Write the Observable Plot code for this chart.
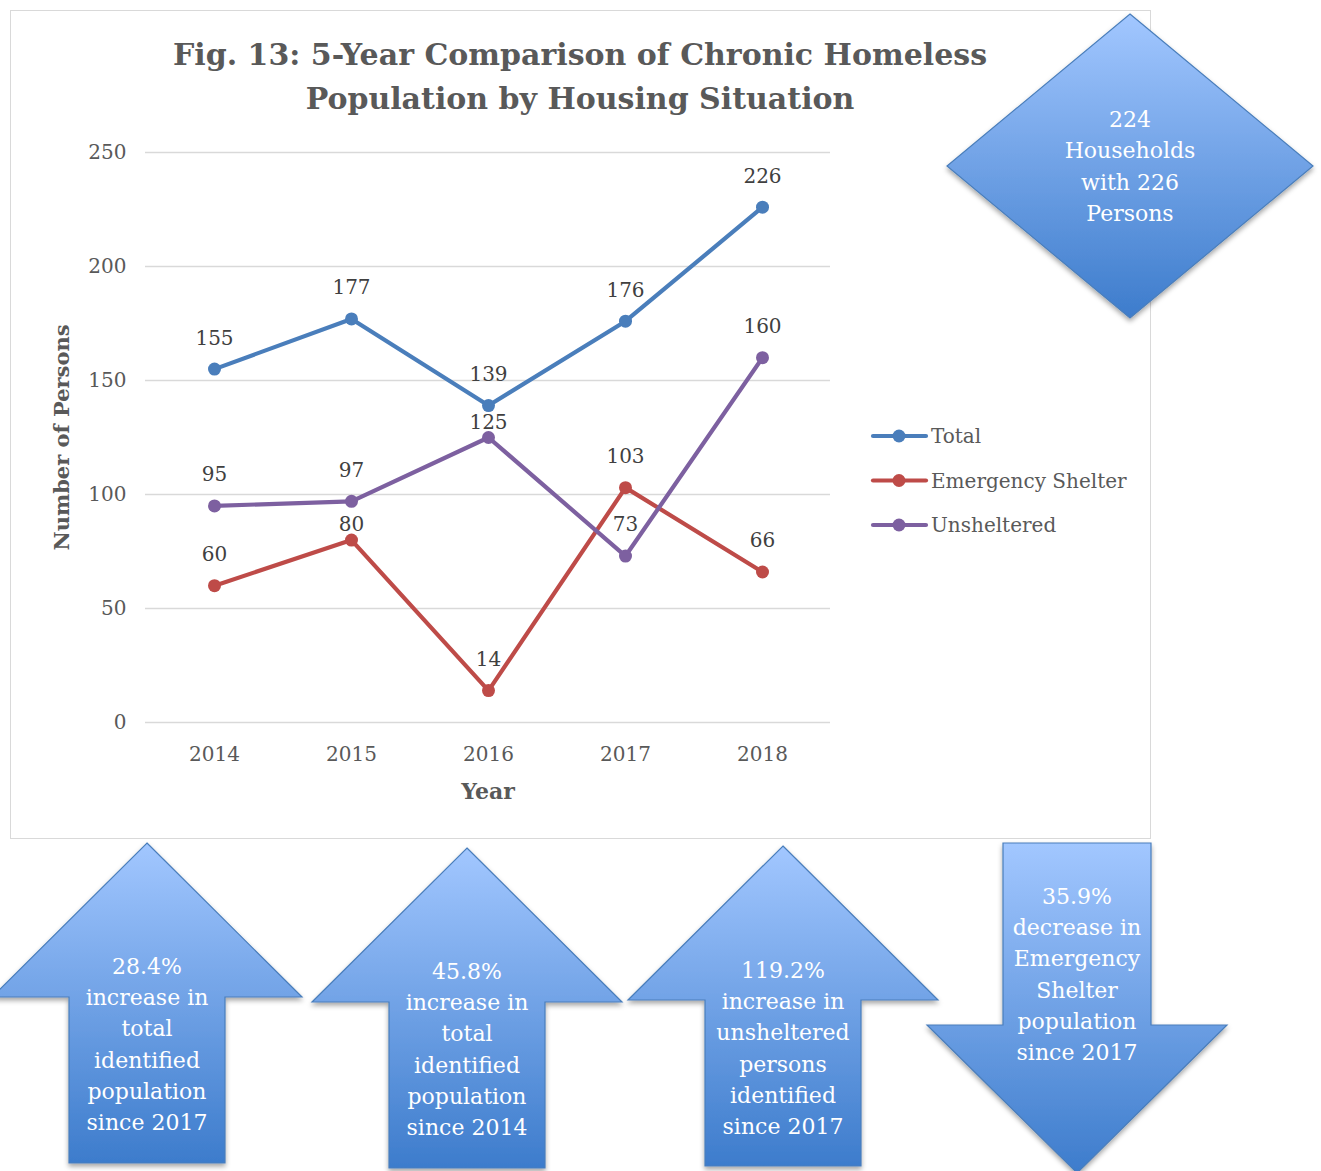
<!DOCTYPE html>
<html>
<head>
<meta charset="utf-8">
<script src="https://cdn.jsdelivr.net/npm/d3@7"></script>
<script src="https://cdn.jsdelivr.net/npm/@observablehq/plot@0.6"></script>
<style>
  html, body { margin: 0; padding: 0; background: #fff; }
  #page { position: relative; width: 1321px; height: 1171px; overflow: hidden; font-family: "DejaVu Serif", serif; }
  #box { position: absolute; left: 10px; top: 10px; width: 1141px; height: 829px; border: 1.5px solid #d9d9d9; box-sizing: border-box; }
  #chart { position: absolute; left: 11px; top: 140px; }
  svg.overlay { position: absolute; left: 0; top: 0; }
</style>
</head>
<body>
<div id="page">
  <div id="box"></div>
  <div id="chart"></div>
</div>
<script>
// ---- data ----
const years = ["2014", "2015", "2016", "2017", "2018"];
const totalValues = [155, 177, 139, 176, 226];
const shelterValues = [60, 80, 14, 103, 66];
const unshelteredValues = [95, 97, 125, 73, 160];
const seriesNames = ["Total", "Emergency Shelter", "Unsheltered"];
const seriesColors = ["#4a7ebb", "#be4b48", "#7d60a0"];
const yTicks = [0, 50, 100, 150, 200, 250];
const titleLines = ["Fig. 13: 5-Year Comparison of Chronic Homeless", "Population by Housing Situation"];
const diamondText = ["224", "Households", "with 226", "Persons"];
const arrowTexts = [
  ["28.4%", "increase in", "total", "identified", "population", "since 2017"],
  ["45.8%", "increase in", "total", "identified", "population", "since 2014"],
  ["119.2%", "increase in", "unsheltered", "persons", "identified", "since 2017"],
  ["35.9%", "decrease in", "Emergency", "Shelter", "population", "since 2017"]
];
// label placement (pixels above point), per series & year — layout only
const labelLift = [
  [31, 31, 31, 31, 31],
  [31, 16, 31, 31, 31],
  [31, 31, 15, 31, 31]
];

const allSeries = [totalValues, shelterValues, unshelteredValues];
const rows = [];
allSeries.forEach((vals, si) => vals.forEach((v, i) => rows.push({series: seriesNames[si], year: years[i], value: v, lift: labelLift[si][i]})));

const chart = Plot.plot({
  width: 1138,
  height: 690,
  marginTop: 12,
  marginBottom: 108,
  marginLeft: 134,
  marginRight: 319,
  x: {type: "point", domain: years, padding: 0.5},
  y: {domain: [0, 250]},
  color: {domain: seriesNames, range: seriesColors},
  style: {fontFamily: "DejaVu Serif", fontSize: "20px", color: "#595959", background: "transparent", overflow: "visible"},
  marks: [
    Plot.ruleY(yTicks, {stroke: "#d9d9d9", strokeWidth: 1.5}),
    Plot.axisY({ticks: yTicks, tickSize: 0, tickPadding: 19, label: null, fontSize: 20, fill: "#595959"}),
    Plot.axisX({tickSize: 0, tickPadding: 24, label: null, fontSize: 20, fill: "#595959"}),
    Plot.text(["Number of Persons"], {frameAnchor: "left", textAnchor: "middle", lineAnchor: "middle", dx: -83, rotate: -90, fontWeight: "bold", fontSize: 21, fill: "#595959"}),
    Plot.text(["Year"], {frameAnchor: "bottom", textAnchor: "middle", lineAnchor: "middle", dy: 69, fontWeight: "bold", fontSize: 22, fill: "#595959"}),
    Plot.line(rows, {x: "year", y: "value", z: "series", stroke: "series", strokeWidth: 4.2, strokeLinecap: "round", strokeLinejoin: "round"}),
    Plot.dot(rows, {x: "year", y: "value", fill: "series", r: 6.5, stroke: null}),
    Plot.text(rows, {x: "year", y: d => d.value, text: d => String(d.value), fill: "#404040", fontSize: 20,
      render: (index, scales, values, dims, ctx, next) => {
        const g = next(index, scales, values, dims, ctx);
        d3.select(g).selectAll("text").each(function(_, k) {
          const i = index[k];
          d3.select(this).attr("dy", -rows[i].lift);
        });
        return g;
      }})
  ]
});
document.getElementById("chart").appendChild(chart);

// ---- overlay: title, legend, callout shapes ----
const page = document.getElementById("page");
const svg = d3.select(page).append("svg").attr("class", "overlay").attr("width", 1321).attr("height", 1171);
const defs = svg.append("defs");
const grad = defs.append("linearGradient").attr("id", "blueGrad").attr("x1", 0).attr("y1", 0).attr("x2", 0).attr("y2", 1);
grad.append("stop").attr("offset", "0%").attr("stop-color", "#a2c7ff");
grad.append("stop").attr("offset", "100%").attr("stop-color", "#3d7ccc");
const filt = defs.append("filter").attr("id", "shadow").attr("x", "-10%").attr("y", "-10%").attr("width", "130%").attr("height", "130%");
filt.append("feDropShadow").attr("dx", 0).attr("dy", 3).attr("stdDeviation", 2.5).attr("flood-color", "#000").attr("flood-opacity", 0.35);

// title
const title = svg.append("text").attr("text-anchor", "middle").attr("font-family", "DejaVu Serif").attr("font-weight", "bold").attr("font-size", 30).attr("fill", "#595959");
titleLines.forEach((t, i) => title.append("tspan").attr("x", 580).attr("y", 65 + i * 44).text(t));

// legend
const legend = svg.append("g").attr("font-family", "DejaVu Serif").attr("font-size", 20).attr("fill", "#595959");
seriesNames.forEach((name, i) => {
  const y = 436 + i * 44.5;
  legend.append("line").attr("x1", 873).attr("x2", 926).attr("y1", y).attr("y2", y).attr("stroke", seriesColors[i]).attr("stroke-width", 4.2).attr("stroke-linecap", "round");
  legend.append("circle").attr("cx", 899).attr("cy", y).attr("r", 6.5).attr("fill", seriesColors[i]);
  legend.append("text").attr("x", 931).attr("y", y + 7).text(name);
});

function drawText(lines, cx, y0, step) {
  const t = svg.append("text").attr("text-anchor", "middle").attr("font-family", "DejaVu Serif").attr("font-size", 22).attr("fill", "#fff");
  lines.forEach((l, i) => t.append("tspan").attr("x", cx).attr("y", y0 + i * step).text(l));
}

// diamond
const dm = {cx: 1130, cy: 166, hw: 183, hh: 152};
svg.append("path")
  .attr("d", `M${dm.cx},${dm.cy - dm.hh} L${dm.cx + dm.hw},${dm.cy} L${dm.cx},${dm.cy + dm.hh} L${dm.cx - dm.hw},${dm.cy} Z`)
  .attr("fill", "url(#blueGrad)").attr("stroke", "#4a7ebb").attr("stroke-width", 1.2).attr("filter", "url(#shadow)");
drawText(diamondText, dm.cx, 127, 31.3);

// arrows
const arrows = [
  {cx: 147, tip: 843, head: 997, hh: 155, hs: 78, end: 1163, ty: 974},
  {cx: 467, tip: 848, head: 1002, hh: 155, hs: 78, end: 1168, ty: 979},
  {cx: 783, tip: 846, head: 1000, hh: 155, hs: 78, end: 1166, ty: 978},
  {cx: 1077, tip: 1173, head: 1025, hh: 150, hs: 74, end: 843, ty: 904}
];
arrows.forEach((a, i) => {
  const d = `M${a.cx},${a.tip} L${a.cx + a.hh},${a.head} L${a.cx + a.hs},${a.head} L${a.cx + a.hs},${a.end} L${a.cx - a.hs},${a.end} L${a.cx - a.hs},${a.head} L${a.cx - a.hh},${a.head} Z`;
  svg.append("path").attr("d", d).attr("fill", "url(#blueGrad)").attr("stroke", "#4a7ebb").attr("stroke-width", 1.2).attr("filter", "url(#shadow)");
  drawText(arrowTexts[i], a.cx, a.ty, 31.2);
});
</script>
</body>
</html>
